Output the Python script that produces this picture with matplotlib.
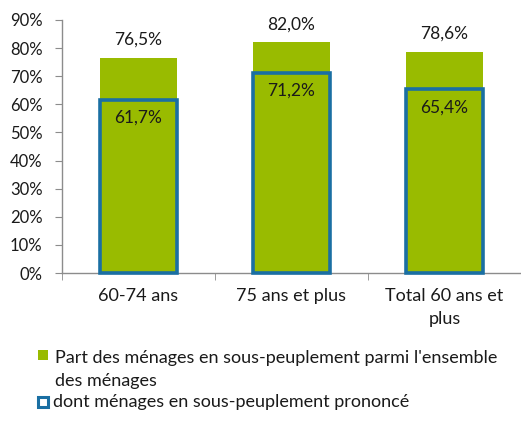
import matplotlib.pyplot as plt
from matplotlib.patches import Rectangle
import numpy as np

plt.rcParams['font.family'] = ['Lato', 'DejaVu Sans']

categories = ['60-74 ans', '75 ans et plus', 'Total 60 ans et\nplus']
part_sous_peuplement = [76.5, 82.0, 78.6]
dont_prononce = [61.7, 71.2, 65.4]
legend_labels = ["Part des ménages en sous-peuplement parmi l'ensemble\ndes ménages",
                 "dont ménages en sous-peuplement prononcé"]

green = '#99BB00'
blue = '#1A6FA3'
grey = '#8C8C8C'
txt = '#1a1a1a'


def fmt(v):
    return ('%.1f%%' % v).replace('.', ',')


fig = plt.figure(figsize=(5.21, 4.21), dpi=100)
ax = fig.add_axes([0.119, 0.3515, 0.881, 0.601])

x = np.arange(len(categories))
ax.bar(x, part_sous_peuplement, width=0.5, color=green, zorder=2)
ax.bar(x, dont_prononce, width=0.5, fill=False, edgecolor=blue, linewidth=2.6,
       zorder=3, clip_on=False)

for xi, v in zip(x, part_sous_peuplement):
    ax.annotate(fmt(v), (xi, v), xytext=(0, 13), textcoords='offset points',
                ha='center', va='center', fontsize=12.5, color=txt)
for xi, v in zip(x, dont_prononce):
    ax.annotate(fmt(v), (xi, v), xytext=(0, -13), textcoords='offset points',
                ha='center', va='center', fontsize=12.5, color=txt)

ax.set_xlim(-0.5, 2.5)
ax.set_ylim(0, 90)
ax.set_yticks(np.arange(0, 91, 10))
ax.set_yticklabels(['%d%%' % t for t in range(0, 91, 10)], fontsize=12, color=txt)
ax.set_xticks(x)
ax.set_xticklabels(categories, fontsize=13, color=txt)
for lab in ax.get_xticklabels():
    lab.set_linespacing(1.55)
ax.set_xticks([-0.5, 0.5, 1.5, 2.5], minor=True)
ax.tick_params(axis='x', which='major', length=0, pad=11)
ax.tick_params(axis='x', which='minor', length=5, color=grey, direction='out')
ax.tick_params(axis='y', length=5, color=grey, pad=9)

for side in ['top', 'right']:
    ax.spines[side].set_visible(False)
for side in ['left', 'bottom']:
    ax.spines[side].set_color(grey)
    ax.spines[side].set_linewidth(1)

# legend drawn by hand below the axes
fig.add_artist(Rectangle((38 / 521, 1 - 360 / 421), 10 / 521, 10 / 421,
                         facecolor=green, edgecolor='none',
                         transform=fig.transFigure))
fig.text(55 / 521, 1 - 369.5 / 421, legend_labels[0], fontsize=13,
         va='center', ha='left', linespacing=1.5, color=txt)
fig.add_artist(Rectangle((38 / 521, 1 - 407 / 421), 10 / 521, 10 / 421,
                         facecolor='white', edgecolor=blue, linewidth=2.2,
                         transform=fig.transFigure))
fig.text(53 / 521, 1 - 402 / 421, legend_labels[1], fontsize=13,
         va='center', ha='left', color=txt)

fig.savefig('out.png', dpi=100)
